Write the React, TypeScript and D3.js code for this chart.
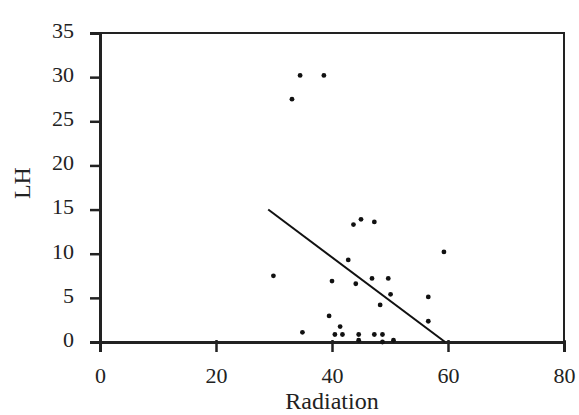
import React, { useEffect, useRef } from "react";
import * as d3 from "d3";

// scatter points: radiation vs LH
const radiation = [
  29.9, 33.1, 34.5, 34.9, 38.6, 39.5, 40.0, 40.5, 41.4, 41.8, 42.8, 43.7, 44.1,
  44.6, 44.6, 45.0, 46.9, 47.3, 47.3, 48.3, 48.7, 48.7, 49.7, 50.1, 50.6, 56.6,
  56.6, 59.3,
];
const lh = [
  7.5, 27.5, 30.2, 1.1, 30.2, 2.95, 6.9, 0.85, 1.75, 0.85, 9.3, 13.3, 6.6, 0.85,
  0.2, 13.9, 7.2, 13.6, 0.85, 4.2, 0.85, 0.0, 7.2, 5.4, 0.2, 5.1, 2.35, 10.2,
];

// fitted line end points
const fitX = [29.0, 59.5];
const fitY = [15.0, 0];

const xTicks = [0, 20, 40, 60, 80];
const yTicks = [0, 5, 10, 15, 20, 25, 30, 35];

const App = () => {
  const svgRef = useRef<SVGSVGElement>(null);

  useEffect(() => {
    const margin = { top: 33, right: 15, bottom: 73, left: 100 };
    const width = 579 - margin.left - margin.right;
    const height = 415 - margin.top - margin.bottom;
    const font = "Liberation Serif";

    const root = d3.select(svgRef.current);
    root.selectAll("*").remove();
    const svg = root
      .append("g")
      .attr("transform", `translate(${margin.left},${margin.top})`);

    const x = d3.scaleLinear().domain([0, 80]).range([0, width]);
    const y = d3.scaleLinear().domain([0, 35]).range([height, 0]);

    // frame (top + right)
    svg
      .append("path")
      .attr("d", `M0,0H${width}V${height}`)
      .attr("fill", "none")
      .attr("stroke", "#222")
      .attr("stroke-width", 2);

    const xAxis = svg
      .append("g")
      .attr("transform", `translate(0,${height})`)
      .call(d3.axisBottom(x).tickValues(xTicks).tickSize(10).tickPadding(15));

    const yAxis = svg
      .append("g")
      .call(d3.axisLeft(y).tickValues(yTicks).tickSize(10).tickPadding(16));

    [xAxis, yAxis].forEach((g) => {
      g.attr("font-family", font).attr("font-size", 22);
      g.select(".domain").attr("stroke", "#222").attr("stroke-width", 3);
      g.selectAll(".tick line").attr("stroke", "#222").attr("stroke-width", 2.5);
      g.selectAll(".tick text").attr("fill", "#222");
    });
    xAxis.selectAll(".tick line").attr("y1", -2);
    yAxis.selectAll(".tick line").attr("x1", 2);
    yAxis.selectAll(".tick text").attr("dy", "0.2em");

    // regression line
    svg
      .append("line")
      .attr("x1", x(fitX[0]))
      .attr("y1", y(fitY[0]))
      .attr("x2", x(fitX[1]))
      .attr("y2", y(fitY[1]))
      .attr("stroke", "#111")
      .attr("stroke-width", 2);

    svg
      .selectAll("circle")
      .data(radiation)
      .enter()
      .append("circle")
      .attr("cx", (d) => x(d))
      .attr("cy", (d, i) => y(lh[i]))
      .attr("r", 2.4)
      .attr("fill", "#111");

    svg
      .append("text")
      .attr("x", x(40))
      .attr("y", height + 67)
      .attr("text-anchor", "middle")
      .attr("fill", "#222")
      .attr("font-family", font)
      .attr("font-size", 24)
      .text("Radiation");

    svg
      .append("text")
      .attr("transform", `translate(-70,${y(18)}) rotate(-90)`)
      .attr("text-anchor", "middle")
      .attr("fill", "#222")
      .attr("font-family", font)
      .attr("font-size", 24)
      .text("LH");
  }, []);

  return (
    <svg
      ref={svgRef}
      width={579}
      height={415}
      style={{ position: "absolute", left: 0, top: 0, background: "#fff" }}
    ></svg>
  );
};

export default App;
